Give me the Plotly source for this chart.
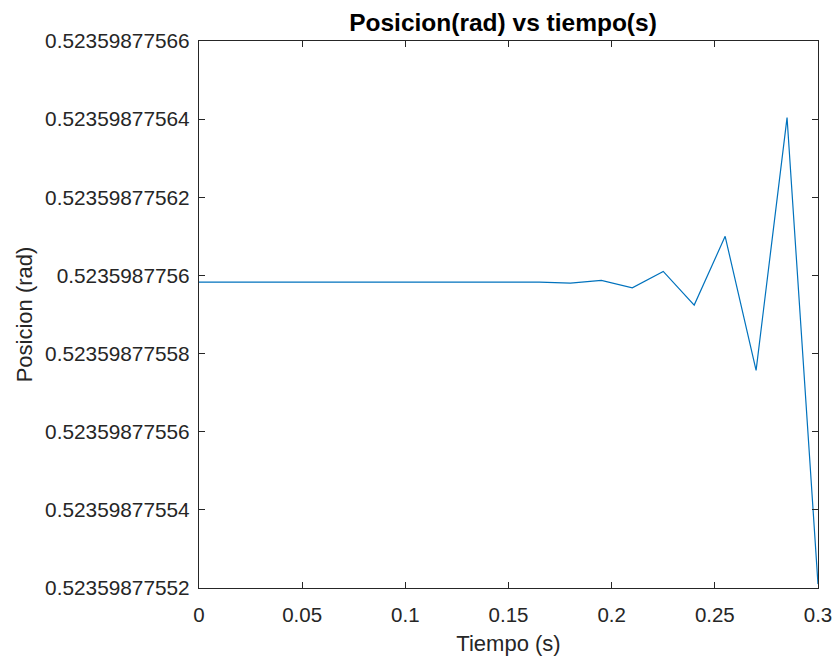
import plotly.graph_objects as go

tiempo = [0.0, 0.015, 0.03, 0.045, 0.06, 0.075, 0.09, 0.105, 0.12, 0.135, 0.15,
          0.165, 0.18, 0.195, 0.21, 0.225, 0.24, 0.255, 0.27, 0.285, 0.3]
posicion = [0.52359877559830, 0.52359877559830, 0.52359877559830, 0.52359877559830,
            0.52359877559830, 0.52359877559830, 0.52359877559830, 0.52359877559830,
            0.52359877559829, 0.52359877559830, 0.52359877559830,
            0.52359877559830, 0.52359877559805, 0.52359877559871, 0.52359877559684,
            0.52359877560103, 0.52359877559240, 0.52359877561000, 0.52359877557570,
            0.52359877564040, 0.52359877552100]

y_ticks = [0.52359877552, 0.52359877554, 0.52359877556, 0.52359877558,
           0.5235987756, 0.52359877562, 0.52359877564, 0.52359877566]
y_tick_text = ["0.52359877552", "0.52359877554", "0.52359877556", "0.52359877558",
               "0.5235987756", "0.52359877562", "0.52359877564", "0.52359877566"]
x_ticks = [0, 0.05, 0.1, 0.15, 0.2, 0.25, 0.3]
x_tick_text = ["0", "0.05", "0.1", "0.15", "0.2", "0.25", "0.3"]

axis_color = "#262626"
font_family = "Liberation Sans, Arial, sans-serif"

fig = go.Figure(go.Scatter(x=tiempo, y=posicion, mode="lines",
                           line=dict(color="#0072BD", width=1.2)))

fig.update_layout(
    width=834, height=660,
    margin=dict(l=199, r=16, t=41, b=72),
    paper_bgcolor="white", plot_bgcolor="white",
    showlegend=False,
    font=dict(family=font_family, color=axis_color, size=20),
    title=dict(text="<b>Posicion(rad) vs tiempo(s)</b>", x=503 / 834,
               xanchor="center", y=1 - 22 / 660, yanchor="middle",
               font=dict(size=24.5, color="black", family=font_family)),
)
fig.update_xaxes(
    range=[0, 0.3], tickmode="array", tickvals=x_ticks, ticktext=x_tick_text,
    showline=True, linecolor=axis_color, linewidth=1.3, mirror="allticks",
    ticks="inside", ticklen=6, tickwidth=1.3, tickcolor=axis_color,
    showgrid=False, zeroline=False, automargin=False, ticklabelstandoff=8,
    tickfont=dict(size=20.5, color=axis_color),
    title=dict(text="Tiempo (s)", font=dict(size=22, color=axis_color), standoff=10),
)
fig.update_yaxes(
    range=[0.52359877552, 0.52359877566], tickmode="array", tickvals=y_ticks,
    ticktext=y_tick_text,
    showline=True, linecolor=axis_color, linewidth=1.3, mirror="allticks",
    ticks="inside", ticklen=6, tickwidth=1.3, tickcolor=axis_color,
    showgrid=False, zeroline=False, automargin=False, ticklabelstandoff=4,
    tickfont=dict(size=20.8, color=axis_color),
    title=dict(text="Posicion (rad)", font=dict(size=22, color=axis_color), standoff=6),
)

fig.write_html("out.html", config={"displayModeBar": False},
               post_script="document.body.style.margin='0';")
